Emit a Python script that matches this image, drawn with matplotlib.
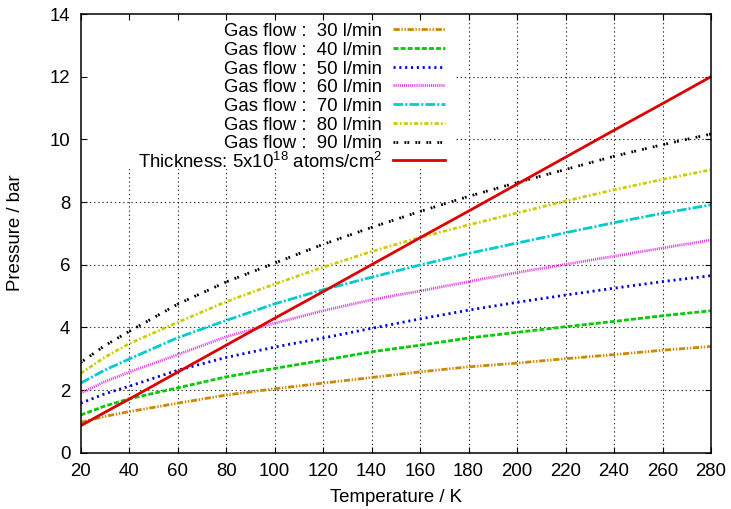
import matplotlib
matplotlib.use("Agg")
import matplotlib.pyplot as plt
from matplotlib.patches import Rectangle

plt.rcParams['font.family'] = ['Liberation Sans', 'DejaVu Sans']
plt.rcParams['mathtext.fontset'] = 'custom'
plt.rcParams['mathtext.rm'] = 'Liberation Sans'
plt.rcParams['mathtext.it'] = 'Liberation Sans:italic'
plt.rcParams['lines.scale_dashes'] = False

# ---- data ----
temperature = [20, 30, 40, 60, 80, 100, 120, 140, 160, 180, 200, 220, 240, 260, 280]
flow_30 = [0.97, 1.16, 1.31, 1.58, 1.84, 2.04, 2.22, 2.40, 2.58, 2.74, 2.86, 3.00, 3.13, 3.27, 3.39]
flow_40 = [1.20, 1.49, 1.72, 2.07, 2.42, 2.69, 2.95, 3.22, 3.43, 3.66, 3.84, 4.02, 4.19, 4.37, 4.53]
flow_50 = [1.58, 1.88, 2.12, 2.63, 3.04, 3.37, 3.66, 3.97, 4.27, 4.55, 4.80, 5.03, 5.25, 5.46, 5.65]
flow_60 = [1.90, 2.27, 2.57, 3.13, 3.70, 4.13, 4.53, 4.88, 5.16, 5.46, 5.75, 6.01, 6.27, 6.53, 6.79]
flow_70 = [2.22, 2.64, 2.99, 3.67, 4.22, 4.75, 5.20, 5.60, 5.99, 6.36, 6.69, 7.02, 7.34, 7.64, 7.91]
flow_80 = [2.53, 3.05, 3.48, 4.16, 4.82, 5.38, 5.92, 6.42, 6.87, 7.27, 7.65, 8.03, 8.39, 8.72, 9.03]
flow_90 = [2.88, 3.42, 3.87, 4.74, 5.45, 6.05, 6.65, 7.19, 7.70, 8.18, 8.62, 9.04, 9.46, 9.83, 10.17]
thickness = [0.86, 1.29, 1.71, 2.57, 3.43, 4.29, 5.14, 6.00, 6.86, 7.71, 8.57, 9.43, 10.29, 11.14, 12.00]

series = [flow_30, flow_40, flow_50, flow_60, flow_70, flow_80, flow_90]
labels = ["Gas flow :  30 l/min", "Gas flow :  40 l/min", "Gas flow :  50 l/min",
          "Gas flow :  60 l/min", "Gas flow :  70 l/min", "Gas flow :  80 l/min",
          "Gas flow :  90 l/min"]
thick_label = "Thickness: 5x10$^{18}$ atoms/cm$^{2}$"
x_ticks = list(range(20, 281, 20))
y_ticks = list(range(0, 15, 2))

# ---- styles ----
colors = ['#cc8800', '#00cc00', '#0000dd', '#e040e0', '#00cccc', '#cccc00', '#000000']
dashes = [(0, (4.5, 1.2, 1.0, 1.2, 1.0, 1.2)),
          (0, (3.6, 1.5)),
          (0, (1.5, 2.7)),
          (0, (0.8, 0.7)),
          (0, (7.0, 1.5, 1.5, 1.5)),
          (0, (3.0, 1.6, 1.2, 1.6)),
          (0, (1.3, 0.8, 1.3, 4.5))]
red = '#dd0000'
FS = 13.4

W, H = 731, 509
fig = plt.figure(figsize=(W / 100, H / 100), dpi=100)
L, R, T, B = 80.7, 711.0, 14.0, 452.7
ax = fig.add_axes([L / W, 1 - B / H, (R - L) / W, (B - T) / H])

def fx(x):
    return x / W

def fy(y):
    return 1 - y / H

# grid (behind everything)
for xv in x_ticks[1:-1]:
    ax.axvline(xv, color='#333333', lw=0.8, ls=(0, (1, 2)), zorder=0.5)
for yv in y_ticks[1:-1]:
    ax.axhline(yv, color='#333333', lw=0.8, ls=(0, (1, 2)), zorder=0.5)

# opaque key box hides grid
key_right = 455.0
key_bottom = 169.0
ax.add_patch(Rectangle((0, 1 - (key_bottom - T) / (B - T)), (key_right - L) / (R - L),
                       (key_bottom - T) / (B - T), transform=ax.transAxes,
                       facecolor='white', edgecolor='none', zorder=1))

for vals, c, d in zip(series, colors, dashes):
    ax.plot(temperature, vals, color=c, lw=2.0, ls=d, zorder=2)
ax.plot(temperature, thickness, color=red, lw=2.0, zorder=2.2)

ax.set_xlim(20, 280)
ax.set_ylim(0, 14)
ax.set_xticks(x_ticks)
ax.set_yticks(y_ticks)
ax.tick_params(direction='in', length=4.3, width=0.8, top=True, right=True,
               labelsize=FS, pad=7.5)
for s in ax.spines.values():
    s.set_linewidth(1.1)

fig.text(fx(396), fy(497), "Temperature / K", ha='center', va='center', fontsize=FS)
fig.text(fx(16), fy(233), "Pressure / bar", ha='center', va='center', rotation=90, fontsize=FS)

# key
baselines = [36.0, 54.8, 73.5, 92.2, 110.9, 129.6, 148.3, 167.5]
text_right = 382.0
samp_l, samp_r = 393.0, 445.0
for i, (lab, c, d) in enumerate(zip(labels, colors, dashes)):
    yb = baselines[i]
    fig.text(fx(text_right), fy(yb), lab, ha='right', va='baseline', fontsize=FS, zorder=3)
    ax.plot([fx(samp_l), fx(samp_r)], [fy(yb - 6.8)] * 2, transform=fig.transFigure,
            color=c, lw=2.0, ls=d, clip_on=False, zorder=3)
yb = baselines[-1]
fig.text(fx(text_right), fy(yb), thick_label, ha='right', va='baseline', fontsize=FS, zorder=3)
ax.plot([fx(samp_l), fx(samp_r)], [fy(yb - 7.5)] * 2, transform=fig.transFigure,
        color=red, lw=2.0, clip_on=False, zorder=3)

fig.savefig("out.png", dpi=100)
